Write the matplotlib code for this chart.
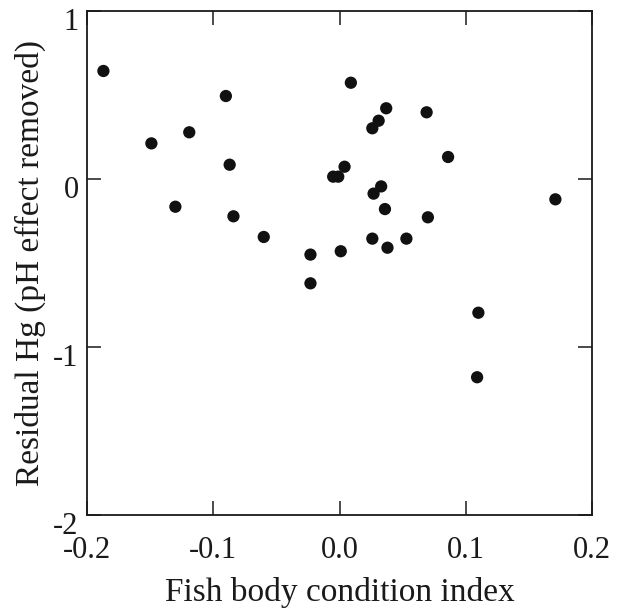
import numpy as np
import matplotlib
matplotlib.use("Agg")
from matplotlib import pyplot as plt
import matplotlib.transforms as mtransforms

# fish body condition index vs residual Hg (pH effect removed)
condition = [-0.187, -0.090, -0.149, -0.119, -0.087, -0.130, -0.084, -0.060,
             -0.023, -0.023, 0.009, 0.037, 0.069, 0.031, 0.026, 0.086,
             0.004, -0.005, -0.001, 0.033, 0.027, 0.171, 0.036, 0.070,
             0.026, 0.053, 0.038, 0.001, 0.110, 0.109]
residual_hg = [0.643, 0.494, 0.212, 0.278, 0.085, -0.165, -0.222, -0.345,
               -0.450, -0.621, 0.573, 0.421, 0.397, 0.347, 0.302, 0.131,
               0.073, 0.014, 0.014, -0.044, -0.087, -0.121, -0.179, -0.228,
               -0.355, -0.355, -0.409, -0.430, -0.796, -1.180]

xticks = [-0.2, -0.1, 0.0, 0.1, 0.2]
xtick_labels = ['-0.2', '-0.1', '0.0', '0.1', '0.2']
yticks = [-2, -1, 0, 1]
ytick_labels = ['-2', '-1', '0', '1']

plt.rcParams['font.family'] = ['Liberation Serif', 'DejaVu Serif']

fig = plt.figure(figsize=(6.23, 6.08), dpi=100)
ax = fig.add_axes([87/623, 1-515/608, (592-87)/623, (515-11)/608])

ax.scatter(condition, residual_hg, s=78, color='#111111', edgecolors='none', zorder=3)

ax.set_xlim(-0.2, 0.2)
ax.set_ylim(-2, 1)
ax.set_xticks(xticks)
ax.set_xticklabels(xtick_labels)
ax.set_yticks(yticks)
ax.set_yticklabels(ytick_labels)
ax.tick_params(direction='in', length=10, width=1.1, top=True, right=True,
               labelsize=22, colors='#1a1a1a')
ax.tick_params(axis='x', pad=15)
ax.tick_params(axis='y', pad=6)
for sp in ax.spines.values():
    sp.set_linewidth(1.3)
    sp.set_color('#1a1a1a')

# y tick labels sit a bit below their ticks in the original
off = mtransforms.ScaledTranslation(0, -0.08, fig.dpi_scale_trans)
for lab in ax.get_yticklabels():
    lab.set_transform(lab.get_transform() + off)

ax.set_xlabel('Fish body condition index', fontsize=24, color='#1a1a1a', labelpad=9)
ax.set_ylabel('Residual Hg (pH effect removed)', fontsize=24, color='#1a1a1a', labelpad=5)

plt.savefig('out.png', dpi=100)
